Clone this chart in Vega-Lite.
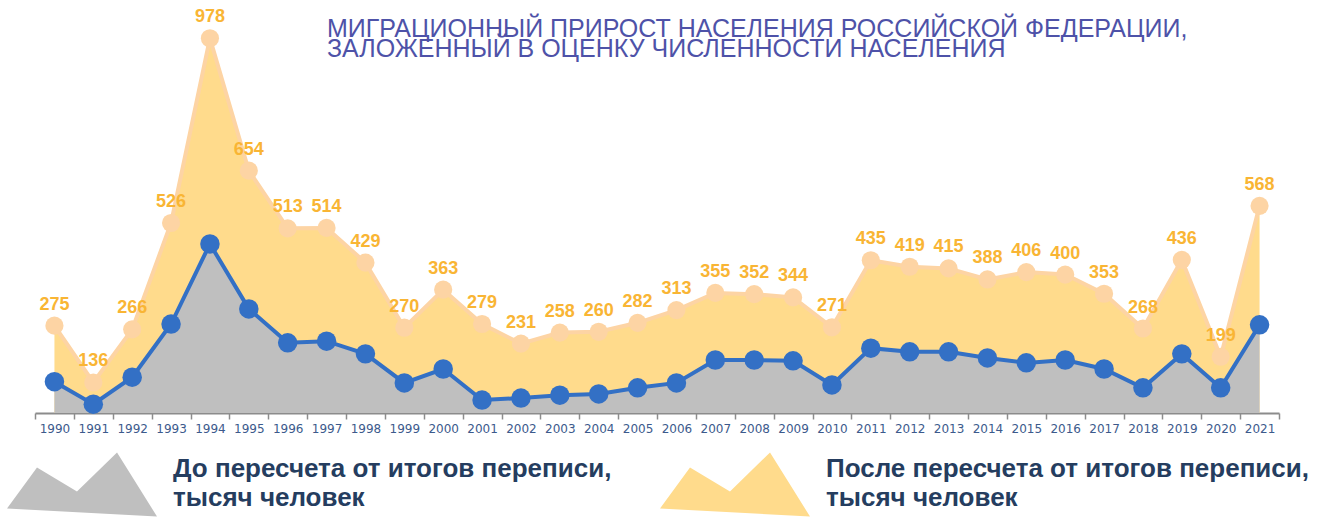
{
  "$schema": "https://vega.github.io/schema/vega-lite/v6.json",
  "width": 1244,
  "height": 403,
  "autosize": {"type": "none"},
  "padding": {"left": 35, "top": 10, "right": 44, "bottom": 104},
  "background": "white",
  "config": {"view": {"stroke": null}, "font": "Liberation Sans"},
  "title": {
    "text": ["МИГРАЦИОННЫЙ ПРИРОСТ НАСЕЛЕНИЯ РОССИЙСКОЙ ФЕДЕРАЦИИ,", "ЗАЛОЖЕННЫЙ В ОЦЕНКУ ЧИСЛЕННОСТИ НАСЕЛЕНИЯ"],
    "anchor": "start",
    "frame": "group",
    "orient": "top",
    "offset": 0,
    "baseline": "top",
    "dx": 292,
    "dy": 54,
    "font": "Liberation Sans",
    "fontSize": 25,
    "fontWeight": "normal",
    "lineHeight": 20,
    "color": "#4E52A8"
  },
  "data": {
    "values": [
      {"year": "1990", "before": 138, "after": 275},
      {"year": "1991", "before": 83, "after": 136},
      {"year": "1992", "before": 149, "after": 266},
      {"year": "1993", "before": 279, "after": 526},
      {"year": "1994", "before": 475, "after": 978},
      {"year": "1995", "before": 316, "after": 654},
      {"year": "1996", "before": 233, "after": 513},
      {"year": "1997", "before": 237, "after": 514},
      {"year": "1998", "before": 206, "after": 429},
      {"year": "1999", "before": 135, "after": 270},
      {"year": "2000", "before": 169, "after": 363},
      {"year": "2001", "before": 93, "after": 279},
      {"year": "2002", "before": 98, "after": 231},
      {"year": "2003", "before": 105, "after": 258},
      {"year": "2004", "before": 108, "after": 260},
      {"year": "2005", "before": 123, "after": 282},
      {"year": "2006", "before": 135, "after": 313},
      {"year": "2007", "before": 191, "after": 355},
      {"year": "2008", "before": 191, "after": 352},
      {"year": "2009", "before": 189, "after": 344},
      {"year": "2010", "before": 130, "after": 271},
      {"year": "2011", "before": 220, "after": 435},
      {"year": "2012", "before": 211, "after": 419},
      {"year": "2013", "before": 211, "after": 415},
      {"year": "2014", "before": 196, "after": 388},
      {"year": "2015", "before": 184, "after": 406},
      {"year": "2016", "before": 191, "after": 400},
      {"year": "2017", "before": 169, "after": 353},
      {"year": "2018", "before": 123, "after": 268},
      {"year": "2019", "before": 206, "after": 436},
      {"year": "2020", "before": 123, "after": 199},
      {"year": "2021", "before": 277, "after": 568}
    ]
  },
  "encoding": {
    "x": {
      "field": "year",
      "type": "ordinal",
      "bandPosition": 0.5,
      "scale": {"type": "band", "paddingInner": 0, "paddingOuter": 0},
      "axis": {
        "title": null,
        "labelAngle": 0,
        "tickBand": "extent",
        "domainColor": "#8c8c8c",
        "domainWidth": 2,
        "tickColor": "#8c8c8c",
        "tickWidth": 1.5,
        "tickSize": 6,
        "labelFont": "DejaVu Sans",
        "labelFontSize": 12,
        "labelColor": "#3c5a8c",
        "labelPadding": 4,
        "grid": false
      }
    }
  },
  "layer": [
    {
      "mark": {"type": "area", "opacity": 1},
      "encoding": {
        "y": {"field": "after", "type": "quantitative", "stack": null, "scale": {"domain": [61.4, 1047], "nice": false, "zero": false}, "axis": null},
        "y2": {"datum": 61.4},
        "color": {
          "datum": "После пересчета от итогов переписи,",
          "type": "nominal",
          "scale": {"domain": ["До пересчета от итогов переписи,", "После пересчета от итогов переписи,"], "range": ["#BFBFBF", "#FFDB8C"]},
          "legend": {
            "orient": "none", "legendX": -28, "legendY": 399, "direction": "horizontal", "title": null,
            "symbolType": "M-1,0.32L-0.6,-0.227L-0.067,0.093L0.467,-0.427L1,0.427Z",
            "symbolSize": 22500, "symbolStrokeWidth": 0, "symbolOpacity": 1,
            "labelFont": "Liberation Sans", "labelFontSize": 26, "labelFontWeight": "bold", "labelColor": "#253D5F",
            "labelOffset": 16, "columnPadding": 48, "labelLimit": 700, "padding": 0,
            "labelExpr": "[datum.label, 'тысяч человек']",
            "encode": {
              "symbols": {"update": {"fill": {"signal": "indexof(datum.value, 'До') == 0 ? '#A8A8A8' : '#FFDB8C'"}, "opacity": {"value": 1}}},
              "labels": {"update": {"dy": {"value": -15}, "lineHeight": {"value": 29}}}
            }
          }
        }
      }
    },
    {
      "mark": {"type": "line", "color": "#FDD4A4", "strokeWidth": 4},
      "encoding": {"y": {"field": "after", "type": "quantitative"}}
    },
    {
      "mark": {"type": "point", "filled": true, "color": "#FDD4A4", "size": 330, "opacity": 1},
      "encoding": {"y": {"field": "after", "type": "quantitative"}}
    },
    {
      "mark": {"type": "area", "opacity": 1},
      "encoding": {
        "y": {"field": "before", "type": "quantitative", "stack": null},
        "y2": {"datum": 61.4},
        "color": {
          "datum": "До пересчета от итогов переписи,",
          "type": "nominal"
        }
      }
    },
    {
      "mark": {"type": "line", "color": "#3370C5", "strokeWidth": 4},
      "encoding": {"y": {"field": "before", "type": "quantitative"}}
    },
    {
      "mark": {"type": "point", "filled": true, "color": "#3370C5", "size": 380, "opacity": 1},
      "encoding": {"y": {"field": "before", "type": "quantitative"}}
    },
    {
      "mark": {"type": "text", "dy": -21, "font": "Liberation Sans", "fontSize": 18, "fontWeight": "bold", "color": "#F9B534", "baseline": "middle"},
      "encoding": {"y": {"field": "after", "type": "quantitative"}, "text": {"field": "after", "type": "quantitative"}}
    }
  ]
}
